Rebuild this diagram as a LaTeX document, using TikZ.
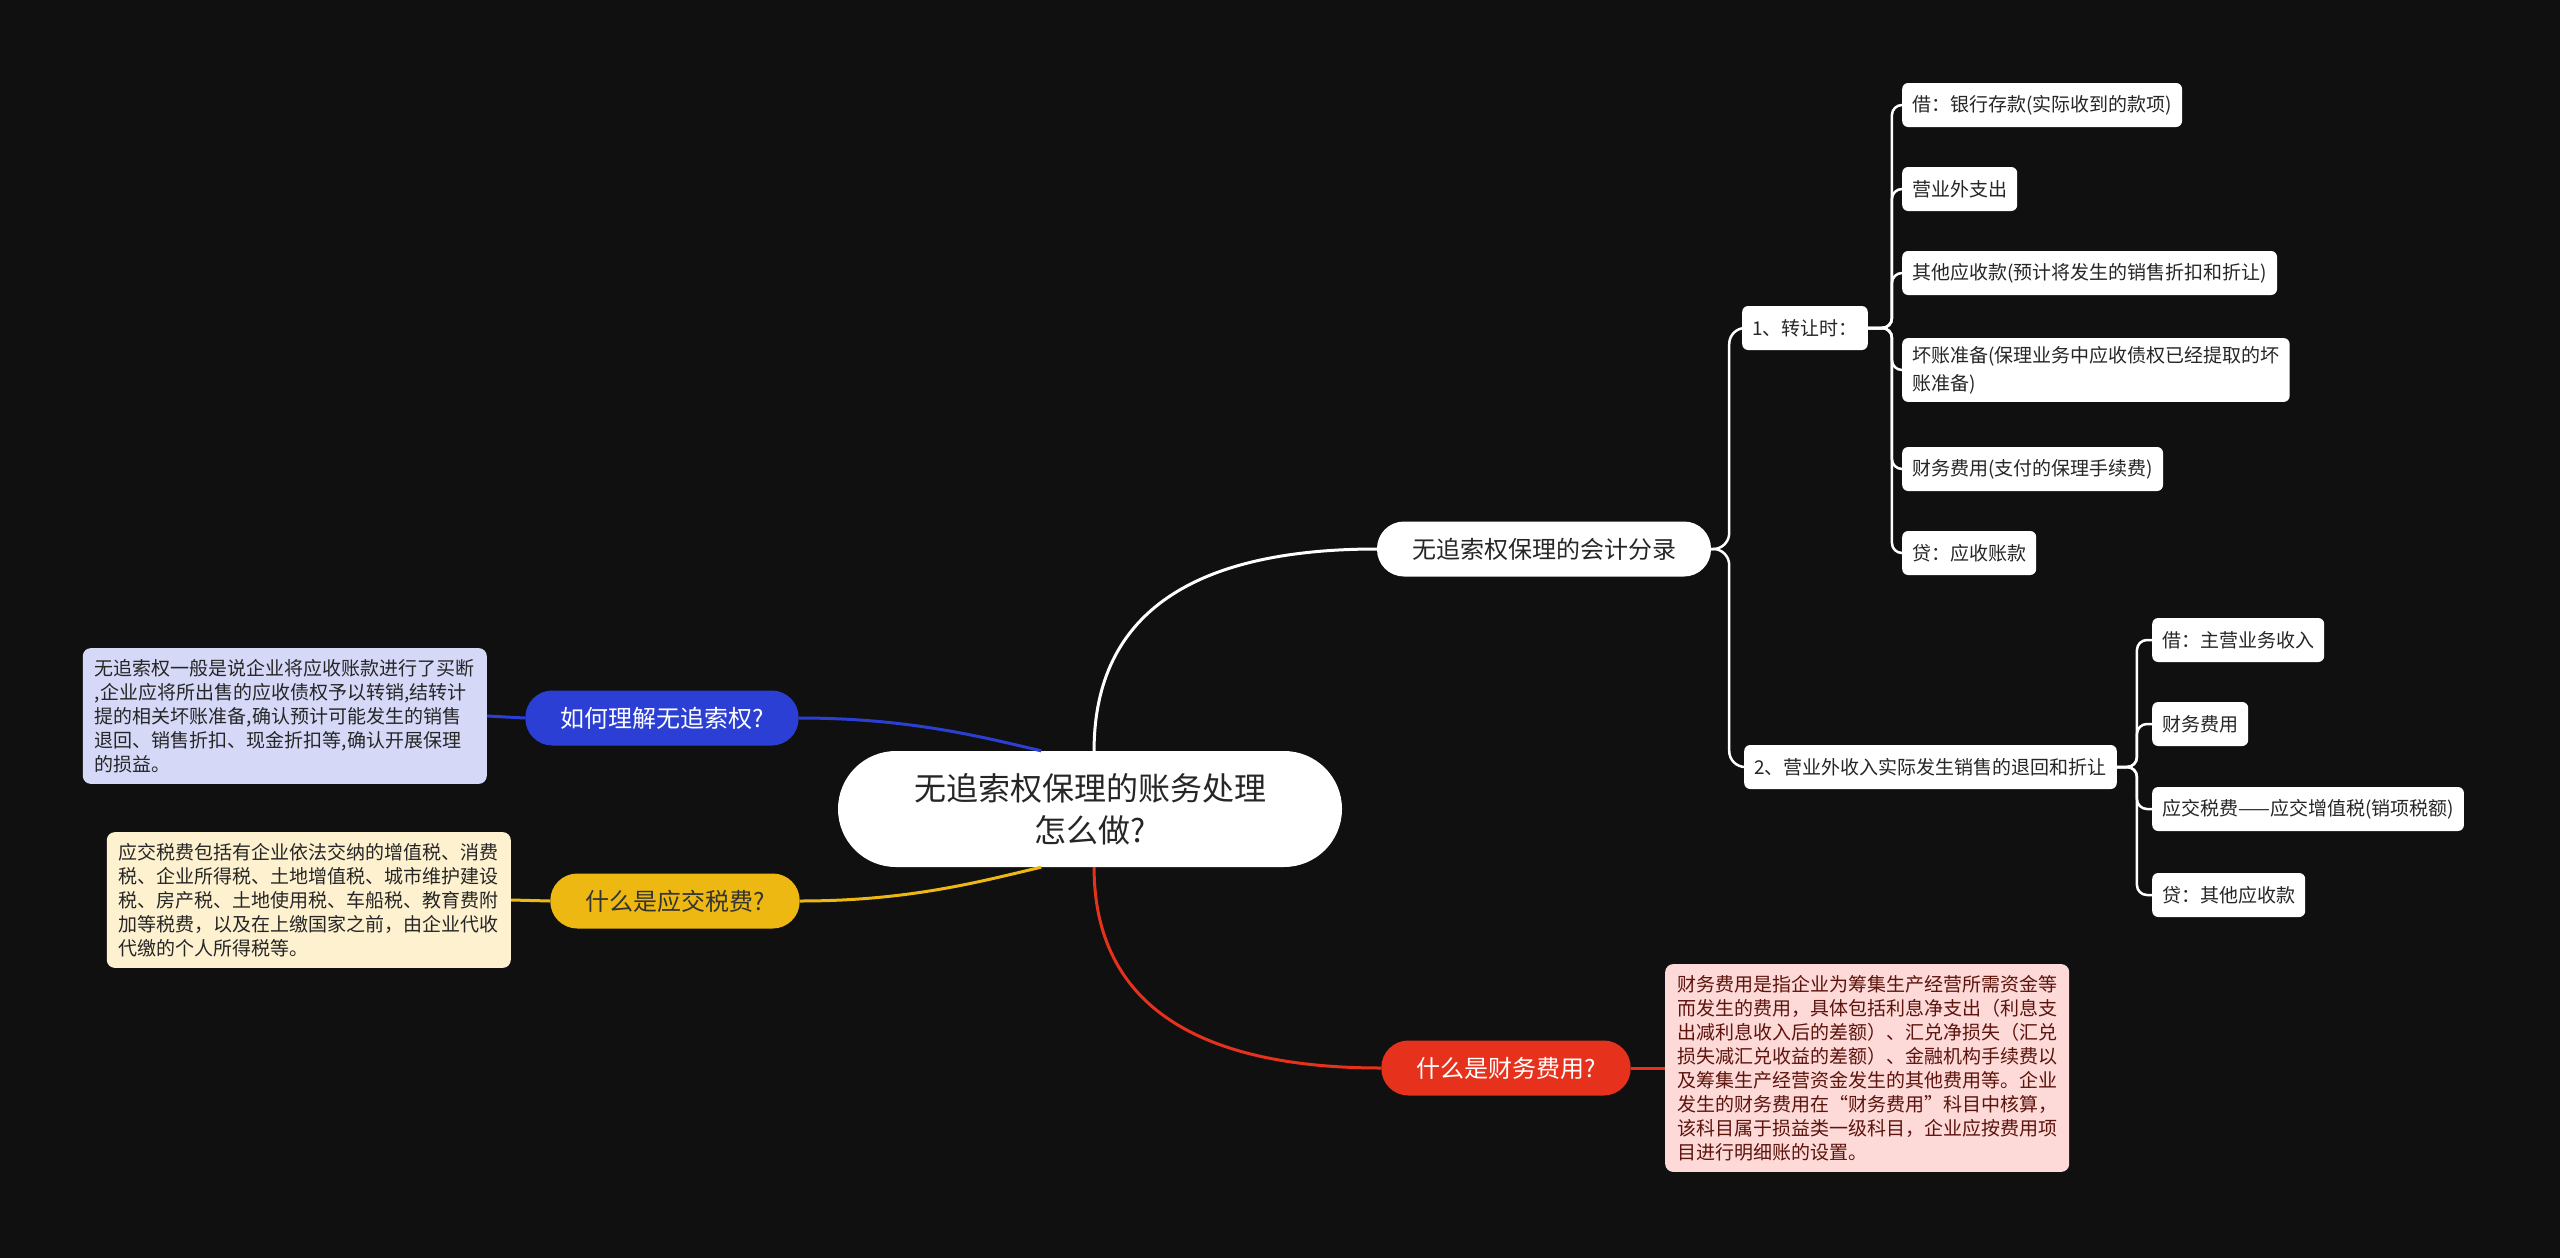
\documentclass[tikz,border=0pt]{standalone}
\usepackage{fontspec}
\setmainfont{Noto Sans CJK SC}
\definecolor{bgdark}{HTML}{101010}
\definecolor{qblue}{HTML}{2B3FD4}
\definecolor{qbluelight}{HTML}{D5D8F7}
\definecolor{qyellow}{HTML}{ECB811}
\definecolor{qyellowlight}{HTML}{FDF1CF}
\definecolor{qred}{HTML}{E6321D}
\definecolor{qredlight}{HTML}{FDD9D8}
\begin{document}
\begin{tikzpicture}[
    x=1pt,
    y=-1pt,
    root/.style={
        fill=white,
        rounded corners=58pt,
        minimum width=504pt,
        minimum height=116pt,
        align=center,
        text=black!85,
        font=\fontsize{32}{42}\selectfont
    },
    topic/.style={
        rounded corners=27pt,
        minimum height=55pt,
        inner xsep=35pt,
        font=\fontsize{24}{28}\selectfont
    },
    item/.style={
        fill=white,
        rounded corners=6pt,
        minimum height=44pt,
        inner xsep=10pt,
        inner ysep=8pt,
        anchor=west,
        align=left,
        text=black!85,
        font=\fontsize{19}{28}\selectfont
    },
    note/.style={
        rounded corners=8pt,
        inner xsep=12pt,
        inner ysep=11pt,
        align=left,
        font=\fontsize{19}{24}\selectfont
    },
    branch/.style={
        line width=3pt
    },
    tree/.style={
        line width=2.5pt,
        draw=white,
        rounded corners=10pt
    }
]

    % Hintergrund
    \fill[bgdark] (0,0) rectangle (2560,1258);
    \useasboundingbox (0,0) rectangle (2560,1258);

    % Zentrum
    \node[root] (root) at (1090,809) {无追索权保理的账务处理\\怎么做?};

    % Hauptzweige
    \node[topic, fill=white, text=black!85] (acct) at (1544,549) {无追索权保理的会计分录};
    \node[topic, fill=qblue, text=white] (bq) at (662,718) {如何理解无追索权?};
    \node[topic, fill=qyellow, text=black!80] (yq) at (675,901) {什么是应交税费?};
    \node[topic, fill=qred, text=white] (fq) at (1506,1068) {什么是财务费用?};

    % Erklaerungen
    \node[note, fill=qbluelight, text=black!85, anchor=east] (bnote) at (487,716) {%
        无追索权一般是说企业将应收账款进行了买断\\
        ,企业应将所出售的应收债权予以转销,结转计\\
        提的相关坏账准备,确认预计可能发生的销售\\
        退回、销售折扣、现金折扣等,确认开展保理\\
        的损益。};
    \node[note, fill=qyellowlight, text=black!85, anchor=east] (ynote) at (511,900) {%
        应交税费包括有企业依法交纳的增值税、消费\\
        税、企业所得税、土地增值税、城市维护建设\\
        税、房产税、土地使用税、车船税、教育费附\\
        加等税费，以及在上缴国家之前，由企业代收\\
        代缴的个人所得税等。};
    \node[note, fill=qredlight, text=qred!40!black, anchor=west] (fnote) at (1665,1068) {%
        财务费用是指企业为筹集生产经营所需资金等\\
        而发生的费用，具体包括利息净支出（利息支\\
        出减利息收入后的差额）、汇兑净损失（汇兑\\
        损失减汇兑收益的差额）、金融机构手续费以\\
        及筹集生产经营资金发生的其他费用等。企业\\
        发生的财务费用在“财务费用”科目中核算，\\
        该科目属于损益类一级科目，企业应按费用项\\
        目进行明细账的设置。};

    % Zweite Ebene
    \node[item] (t1) at (1742,328) {1、转让时：};
    \node[item] (t2) at (1744,767) {2、营业外收入实际发生销售的退回和折让};

    % Dritte Ebene
    \foreach \y/\txt/\id in {
        105/{借：银行存款(实际收到的款项)}/a1,
        189/{营业外支出}/a2,
        273/{其他应收款(预计将发生的销售折扣和折让)}/a3,
        370/{坏账准备(保理业务中应收债权已经提取的坏\\账准备)}/a4,
        469/{财务费用(支付的保理手续费)}/a5,
        553/{贷：应收账款}/a6}{
        \node[item] (\id) at (1902,\y) {\txt};
    }
    \foreach \y/\txt/\id in {
        640/{借：主营业务收入}/b1,
        724/{财务费用}/b2,
        809/{应交税费——应交增值税(销项税额)}/b3,
        895/{贷：其他应收款}/b4}{
        \node[item] (\id) at (2152,\y) {\txt};
    }

    % Verbindungen
    \draw[branch, white] (root.86) .. controls +(0,-140) and +(-180,0) .. (acct.west);
    \draw[branch, qred] (root.-86) .. controls +(0,140) and +(-180,0) .. (fq.west);
    \draw[branch, qblue] (bq.east) .. controls +(110,0) and +(-60,-14) .. (root.130);
    \draw[branch, qyellow] (yq.east) .. controls +(110,0) and +(-60,14) .. (root.-130);
    \draw[branch, qblue] (bq.west) -- (bnote.east);
    \draw[branch, qyellow] (yq.west) -- (ynote.east);
    \draw[branch, qred] (fq.east) -- (fnote.west);

    \draw[tree, rounded corners=16pt] (acct.east) -- ++(18,0) |- (t1.west);
    \draw[tree, rounded corners=16pt] (acct.east) -- ++(18,0) |- (t2.west);
    \foreach \id in {a1,a2,a3,a4,a5,a6}{
        \draw[tree] (t1.east) -- ++(24,0) |- (\id.west);
    }
    \foreach \id in {b1,b2,b3,b4}{
        \draw[tree] (t2.east) -- ++(20,0) |- (\id.west);
    }

\end{tikzpicture}
\end{document}
